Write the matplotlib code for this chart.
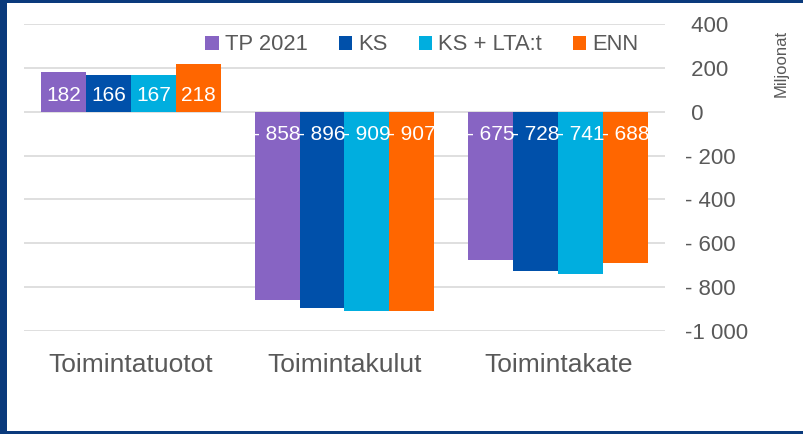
import matplotlib
matplotlib.use("Agg")
import matplotlib.pyplot as plt
import numpy as np
from matplotlib.patches import Rectangle
from matplotlib.ticker import FuncFormatter

plt.rcParams['font.family'] = ['Liberation Sans', 'DejaVu Sans']

categories = ["Toimintatuotot", "Toimintakulut", "Toimintakate"]
series = ["TP 2021", "KS", "KS + LTA:t", "ENN"]
values = {
    "TP 2021": [182, -858, -675],
    "KS": [166, -896, -728],
    "KS + LTA:t": [167, -909, -741],
    "ENN": [218, -907, -688],
}
colors = ["#8764c3", "#0050aa", "#00aedf", "#ff6600"]
y_ticks = [400, 200, 0, -200, -400, -600, -800, -1000]

GREY = "#595959"
NAVY = "#0a3a7c"


def fmt_num(v, pos=None):
    s = f"{abs(v):,.0f}".replace(",", " ")
    if v < 0:
        return "-" + s if abs(v) >= 1000 else "- " + s
    return " " + s


fig = plt.figure(figsize=(8.04, 4.34), dpi=100, facecolor=NAVY)
# white card inside the navy frame
fig.add_artist(Rectangle((7 / 804, 3 / 434), 1, 1 - 6 / 434,
                         transform=fig.transFigure, facecolor="white",
                         edgecolor="none", zorder=0))

ax = fig.add_axes([24 / 804, 103 / 434, 641 / 804, 307 / 434])
ax.set_facecolor("none")

x = np.arange(len(categories))
width = 0.2106
for i, (name, c) in enumerate(zip(series, colors)):
    pos = x + (i - 1.5) * width
    ax.bar(pos, values[name], width, color=c, label=name, zorder=3)
    for px, v in zip(pos, values[name]):
        if v >= 0:
            ax.annotate(str(v), (px, 0), xytext=(0, 7.7),
                        textcoords="offset points", ha="center",
                        va="baseline", color="white", fontsize=15,
                        zorder=4)
        else:
            ax.annotate(fmt_num(v), (px, 0), xytext=(0, -20.4),
                        textcoords="offset points", ha="center",
                        va="baseline", color="white", fontsize=15,
                        zorder=4)

ax.set_xlim(-0.5, 2.5)
ax.set_ylim(-1000, 400)
ax.set_yticks(y_ticks)
ax.yaxis.set_major_formatter(FuncFormatter(fmt_num))
ax.yaxis.tick_right()
ax.grid(axis="y", color="#d9d9d9", linewidth=1.2, zorder=0)
ax.set_axisbelow(True)
for s in ax.spines.values():
    s.set_visible(False)
ax.tick_params(axis="y", length=0, pad=14.4, labelsize=16, labelcolor=GREY)
for lbl in ax.get_yticklabels():
    lbl.set_horizontalalignment("left")
ax.set_xticks(x)
ax.set_xticklabels(categories)
ax.tick_params(axis="x", length=0, pad=15.8, labelsize=19, labelcolor=GREY)

ax.legend(loc="center", bbox_to_anchor=(0.621, 0.932), ncol=4,
          frameon=False, fontsize=15.8, labelcolor=GREY,
          handlelength=0.6, handleheight=0.6, handletextpad=0.3,
          columnspacing=1.4, borderpad=0)

fig.text(781 / 804, 1 - 63 / 434, "Miljoonat", rotation=90,
         ha="center", va="center", fontsize=12, color=GREY)

fig.savefig("out.png", dpi=100, facecolor=fig.get_facecolor())
